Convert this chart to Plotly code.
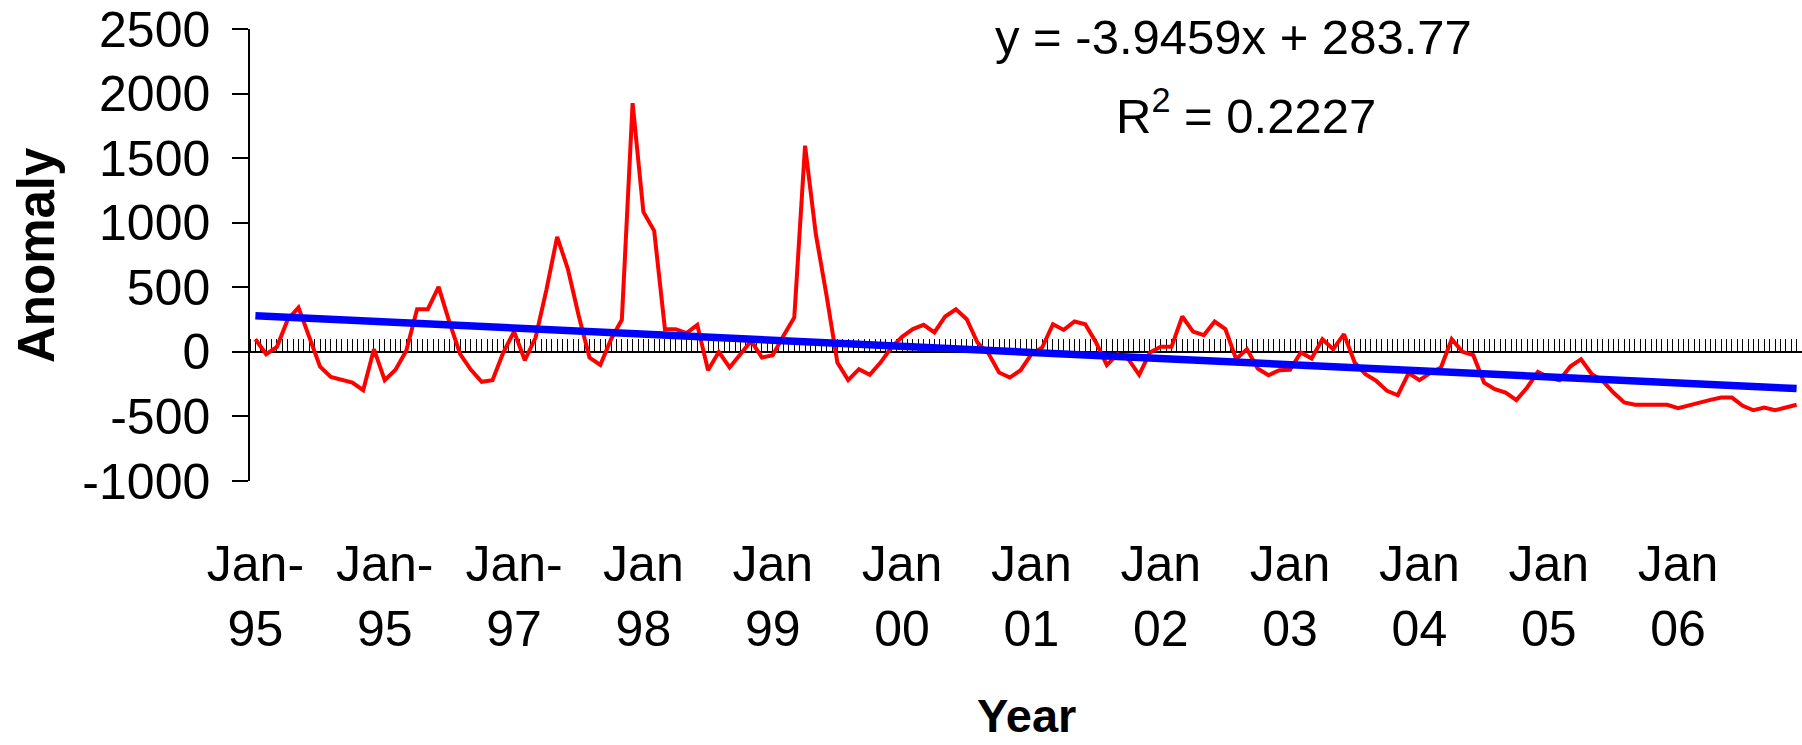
import plotly.graph_objects as go

# ---- data (monthly anomaly, Jan 1995 - Dec 2006) ----
anomaly = [
    98, -18, 39, 250, 343, 120, -114, -194, -217, -238, -297, 21,
    -219, -139, 8, 330, 330, 503, 230, -18, -139, -232, -219, -5,
    157, -65, 111, 480, 891, 640, 280, -44, -101, 98, 248, 1926,
    1084, 937, 176, 176, 145, 209, -142, 0, -121, -18, 85, -44,
    -26, 124, 266, 1596, 911, 434, -83, -219, -134, -178, -83, 34,
    116, 176, 209, 150, 274, 330, 253, 72, -10, -160, -199, -142,
    -18, 34, 214, 170, 235, 214, 72, -103, -18, -57, -178, -5,
    39, 39, 274, 157, 129, 235, 176, -57, 21, -129, -181, -142,
    -139, -5, -52, 98, 21, 137, -83, -173, -225, -302, -336, -165,
    -219, -165, -121, 98, 0, -26, -238, -289, -315, -374, -276, -155,
    -199, -219, -114, -57, -173, -225, -315, -392, -410, -410, -410, -410,
    -436, -413, -392, -372, -354, -354, -418, -452, -431, -452, -431, -410,
]
trend_slope = -3.9459
trend_intercept = 283.77
tick_labels = ["Jan-<br>95", "Jan-<br>95", "Jan-<br>97", "Jan<br>98", "Jan<br>99",
               "Jan<br>00", "Jan<br>01", "Jan<br>02", "Jan<br>03", "Jan<br>04",
               "Jan<br>05", "Jan<br>06"]
label_step = 12
y_ticks = [-1000, -500, 0, 500, 1000, 1500, 2000, 2500]
y_tick_text = ["-1000", "-500", "0", "500", "1000", "1500", "2000", "2500"]

n = len(anomaly)
x_idx = list(range(n))
trend = [trend_slope * (i + 1) + trend_intercept for i in x_idx]
tick_pos = [i * label_step for i in range(len(tick_labels))]

FONT = "Liberation Sans, Arial, sans-serif"
y_min, y_max = -1000, 2500
x_range = [-0.5, n - 0.5]

fig = go.Figure()
fig.add_trace(go.Scatter(x=x_idx, y=anomaly, mode="lines",
                         line=dict(color="#FF0000", width=4), hoverinfo="skip",
                         showlegend=False))
fig.add_trace(go.Scatter(x=x_idx, y=trend, mode="lines", xaxis="x2",
                         line=dict(color="#0000FF", width=7.5), hoverinfo="skip",
                         showlegend=False))

W, H = 1802, 745
ml, mr, mt, mb = 250, 0, 29, 264
plot_w = W - ml - mr
plot_h = H - mt - mb

fig.update_layout(
    width=W, height=H,
    margin=dict(l=ml, r=mr, t=mt, b=mb, pad=0),
    paper_bgcolor="white", plot_bgcolor="white",
    font=dict(family=FONT, color="black", size=50),
    xaxis=dict(range=x_range, showline=False, showgrid=False, zeroline=False,
               tickmode="array", tickvals=tick_pos, ticktext=tick_labels,
               ticks="", tickfont=dict(family=FONT, size=50, color="black"),
               ticklabelstandoff=49),
    xaxis2=dict(range=x_range, overlaying="x", anchor="free",
                position=(0 - y_min) / (y_max - y_min), side="top",
                showline=True, linecolor="black", linewidth=1.5,
                showgrid=False, zeroline=False, showticklabels=False,
                ticks="outside", ticklen=12, tickwidth=1, tickcolor="black",
                tick0=-0.5, dtick=0.5, layer="below traces"),
    yaxis=dict(range=[y_min, y_max], showline=True, linecolor="black", linewidth=1.5,
               showgrid=False, zeroline=False, tickmode="array", tickvals=y_ticks,
               ticktext=y_tick_text,
               ticks="outside", ticklen=16, tickwidth=1.5, tickcolor="black",
               tickfont=dict(family=FONT, size=50, color="black"),
               ticklabelstandoff=12),
)

def px_to_paper_x(px):
    return (px - ml) / plot_w

def px_to_paper_y(py):
    return (mt + plot_h - py) / plot_h

annotations = [
    dict(text="y = -3.9459x + 283.77", x=px_to_paper_x(1233), y=px_to_paper_y(37),
         xanchor="center", yanchor="middle", font=dict(family=FONT, size=49)),
    dict(text="R<sup>2</sup> = 0.2227", x=px_to_paper_x(1246), y=px_to_paper_y(112),
         xanchor="center", yanchor="middle", font=dict(family=FONT, size=49)),
    dict(text="<b>Anomaly</b>", textangle=-90, x=px_to_paper_x(36), y=0.5,
         xanchor="center", yanchor="middle", font=dict(family=FONT, size=51)),
    dict(text="<b>Year</b>", x=0.5, y=px_to_paper_y(715),
         xanchor="center", yanchor="middle", font=dict(family=FONT, size=47)),
]
for a in annotations:
    a.update(xref="paper", yref="paper", showarrow=False)
fig.update_layout(annotations=annotations)

fig.write_html("out.html", config={"displayModeBar": False},
               post_script="document.body.style.margin='0';document.body.style.overflow='hidden';")
